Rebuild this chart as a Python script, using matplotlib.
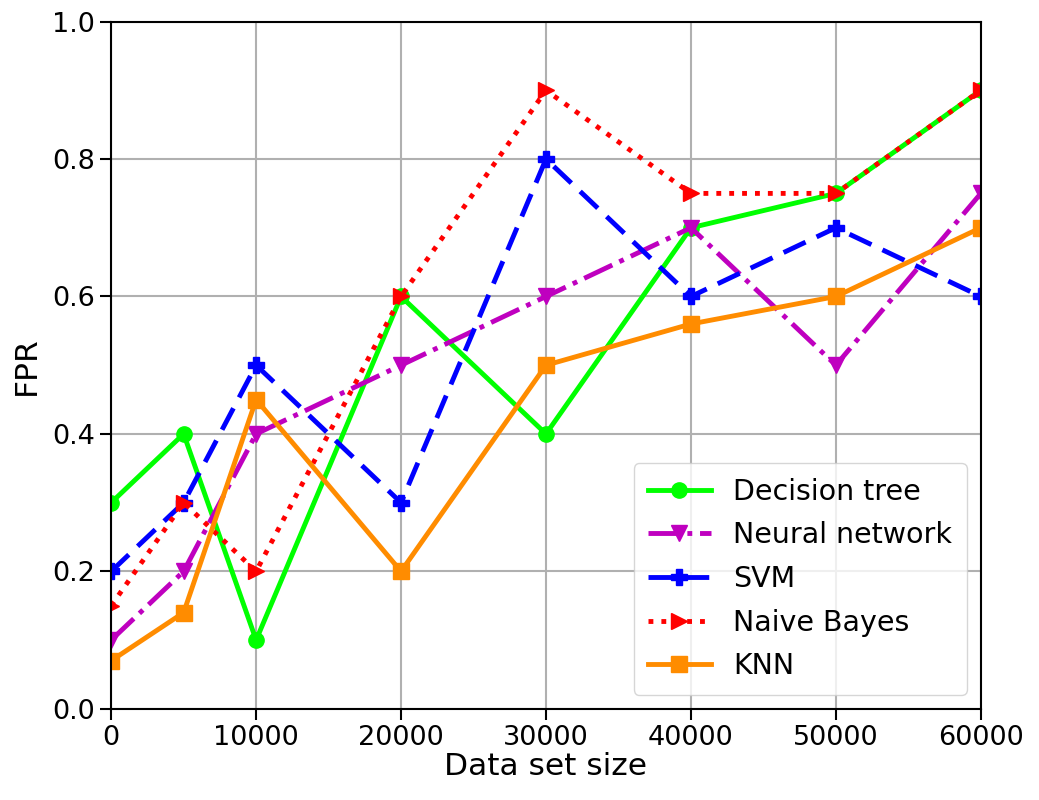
import matplotlib
matplotlib.use("Agg")
import matplotlib.pyplot as plt

# data
sizes = [0, 5000, 10000, 20000, 30000, 40000, 50000, 60000]
decision_tree = [0.30, 0.40, 0.10, 0.60, 0.40, 0.70, 0.75, 0.90]
neural_network = [0.10, 0.20, 0.40, 0.50, 0.60, 0.70, 0.50, 0.75]
svm = [0.20, 0.30, 0.50, 0.30, 0.80, 0.60, 0.70, 0.60]
naive_bayes = [0.15, 0.30, 0.20, 0.60, 0.90, 0.75, 0.75, 0.90]
knn = [0.07, 0.14, 0.45, 0.20, 0.50, 0.56, 0.60, 0.70]

fig = plt.figure(figsize=(10.39, 8), dpi=100)
ax = fig.add_axes([0.107, 0.114, 0.837, 0.859])

lw = 3.5
ms = 11
ax.plot(sizes, decision_tree, color='#00ff00', linestyle='-', marker='o', lw=lw, ms=ms, label='Decision tree')
ax.plot(sizes, neural_network, color='#bf00bf', linestyle='-.', marker='v', lw=lw, ms=ms, label='Neural network')
ax.plot(sizes, svm, color='#0000ff', linestyle='--', marker='P', lw=lw, ms=ms, label='SVM', dashes=(5, 2.5))
ax.plot(sizes, naive_bayes, color='#ff0000', linestyle=':', marker='>', lw=lw, ms=ms, label='Naive Bayes')
ax.plot(sizes, knn, color='#ff8c00', linestyle='-', marker='s', lw=lw, ms=ms, label='KNN')

ax.set_xlim(0, 60000)
ax.set_ylim(0, 1.0)
ax.set_xticks([0, 10000, 20000, 30000, 40000, 50000, 60000])
ax.set_yticks([0.0, 0.2, 0.4, 0.6, 0.8, 1.0])
ax.tick_params(labelsize=19.5, length=8, width=1.5)
ax.grid(True, color='#b0b0b0', linewidth=1.5)
for s in ax.spines.values():
    s.set_linewidth(1.5)

ax.set_xlabel('Data set size', fontsize=22.5, labelpad=1)
ax.set_ylabel('FPR', fontsize=22.5, labelpad=8)

ax.legend(loc='lower right', fontsize=20.5, handlelength=2.2, borderpad=0.5,
          labelspacing=0.55, framealpha=0.8)

fig.savefig('out.png', dpi=100)
